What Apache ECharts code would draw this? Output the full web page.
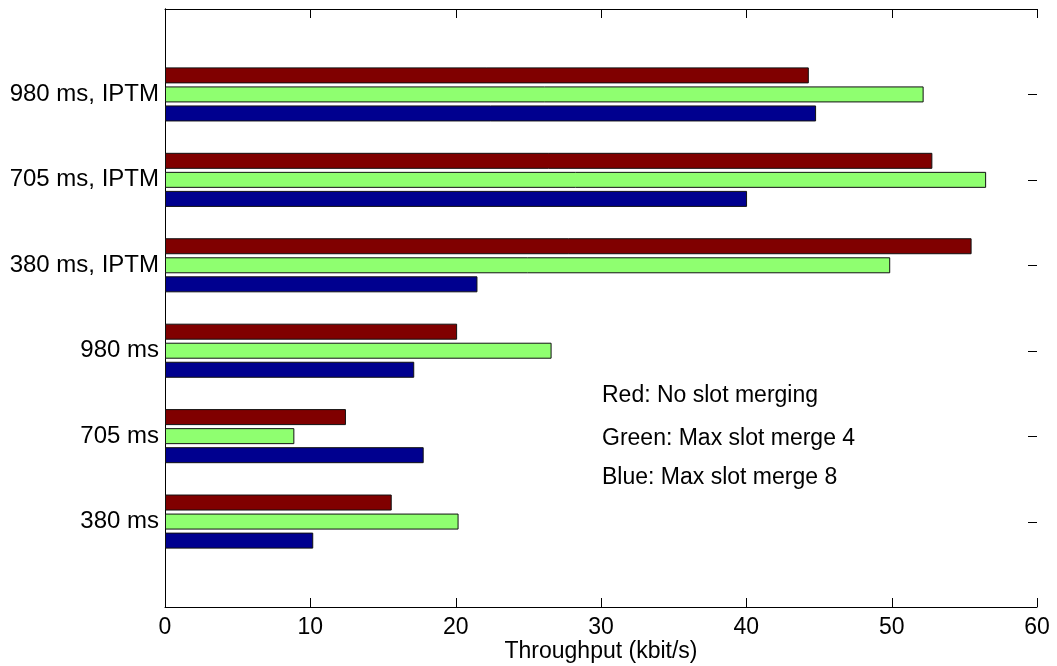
<!DOCTYPE html>
<html>
<head>
<meta charset="utf-8">
<title>Throughput per configuration</title>
<script src="https://cdn.jsdelivr.net/npm/echarts@6/dist/echarts.min.js"></script>
<style>
  html, body { margin: 0; padding: 0; background: #fff; }
  #chart { width: 1057px; height: 666px; }
</style>
</head>
<body>
<div id="chart"></div>
<script>
// Configurations, bottom to top
const categories = ['380 ms', '705 ms', '980 ms', '380 ms, IPTM', '705 ms, IPTM', '980 ms, IPTM'];

// Throughput in kbit/s for each slot-merging setting
const noMerge   = [15.6, 12.45, 20.1, 55.5, 52.8, 44.3];
const merge4    = [20.2, 8.9, 26.6, 49.9, 56.5, 52.2];
const merge8    = [10.2, 17.8, 17.15, 21.5, 40.05, 44.8];

const xTicks = [0, 10, 20, 30, 40, 50, 60];

const notes = ['Red: No slot merging', 'Green: Max slot merge 4', 'Blue: Max slot merge 8'];

const FONT = '"Liberation Sans", Arial, Helvetica, sans-serif';
const TICK_LEN = 9;

// Pad one empty slot below and above so the groups sit at 1..6 on a 0..7 span
const yCats = [''].concat(categories, ['']);
const pad = arr => [null].concat(arr, [null]);

const chart = echarts.init(document.getElementById('chart'), null, { renderer: 'canvas' });

const makeBar = (name, values, color) => ({
  name: name,
  type: 'bar',
  data: pad(values),
  barWidth: 16,
  barGap: '19%',
  itemStyle: { color: color, borderColor: '#111', borderWidth: 1 },
  emphasis: { disabled: true },
  silent: true
});

const crisp = v => Math.round(v) + 0.5;
const tickLine = (x1, y1, x2, y2) => ({
  type: 'line',
  shape: { x1: x1, y1: y1, x2: x2, y2: y2 },
  style: { stroke: '#000', lineWidth: 1 }
});

// Inward ticks on the bottom and top edges, one per x tick value
const xTickSeries = {
  type: 'custom',
  silent: true,
  clip: false,
  z: 5,
  data: xTicks.map(v => [v, 0]),
  renderItem: (params, api) => {
    const cs = params.coordSys;
    const px = crisp(api.coord([api.value(0), 0])[0]);
    const yb = cs.y + cs.height, yt = cs.y;
    return {
      type: 'group',
      children: [
        tickLine(px, yb, px, yb - TICK_LEN),
        tickLine(px, yt, px, yt + TICK_LEN)
      ]
    };
  }
};

// Inward ticks on the left and right edges, one per configuration
const yTickSeries = {
  type: 'custom',
  silent: true,
  clip: false,
  z: 1,
  data: categories.map((c, i) => [0, i + 1]),
  renderItem: (params, api) => {
    const cs = params.coordSys;
    const py = crisp(api.coord([0, api.value(1)])[1]);
    const xl = cs.x, xr = cs.x + cs.width;
    return {
      type: 'group',
      children: [
        tickLine(xl, py, xl + TICK_LEN, py),
        tickLine(xr, py, xr - TICK_LEN, py)
      ]
    };
  }
};

const frameLine = { show: true, lineStyle: { color: '#000', width: 1 } };

chart.setOption({
  animation: false,
  backgroundColor: '#fff',
  textStyle: { fontFamily: FONT },
  grid: { left: 165, right: 20, top: 9, bottom: 59, containLabel: false, outerBoundsMode: 'none' },
  xAxis: [
    {
      type: 'value',
      min: xTicks[0],
      max: xTicks[xTicks.length - 1],
      interval: 10,
      position: 'bottom',
      name: 'Throughput (kbit/s)',
      nameLocation: 'middle',
      nameGap: 33,
      nameMoveOverlap: false,
      nameTextStyle: { fontFamily: FONT, fontSize: 23, color: '#000' },
      axisLine: frameLine,
      axisTick: { show: false },
      axisLabel: { fontFamily: FONT, fontSize: 23, color: '#000', margin: 9 },
      splitLine: { show: false }
    },
    {
      type: 'value',
      min: xTicks[0],
      max: xTicks[xTicks.length - 1],
      interval: 10,
      position: 'top',
      axisLine: frameLine,
      axisTick: { show: false },
      axisLabel: { show: false },
      splitLine: { show: false }
    }
  ],
  yAxis: [
    {
      type: 'category',
      data: yCats,
      boundaryGap: false,
      position: 'left',
      axisLine: frameLine,
      axisTick: { show: false },
      axisLabel: { fontFamily: FONT, fontSize: 24, color: '#000', margin: 6, interval: 0 },
      splitLine: { show: false }
    },
    {
      type: 'category',
      data: yCats,
      boundaryGap: false,
      position: 'right',
      axisLine: frameLine,
      axisTick: { show: false },
      axisLabel: { show: false },
      splitLine: { show: false }
    }
  ],
  series: [
    makeBar('No slot merging', noMerge, '#800000'),
    makeBar('Max slot merge 4', merge4, '#8fff70'),
    makeBar('Max slot merge 8', merge8, '#00008f'),
    xTickSeries,
    yTickSeries
  ],
  graphic: notes.map((t, i) => ({
    type: 'text',
    left: 602,
    top: [384, 427, 466][i],
    silent: true,
    style: { text: t, font: '23px ' + FONT, fill: '#000' }
  }))
});
</script>
</body>
</html>
